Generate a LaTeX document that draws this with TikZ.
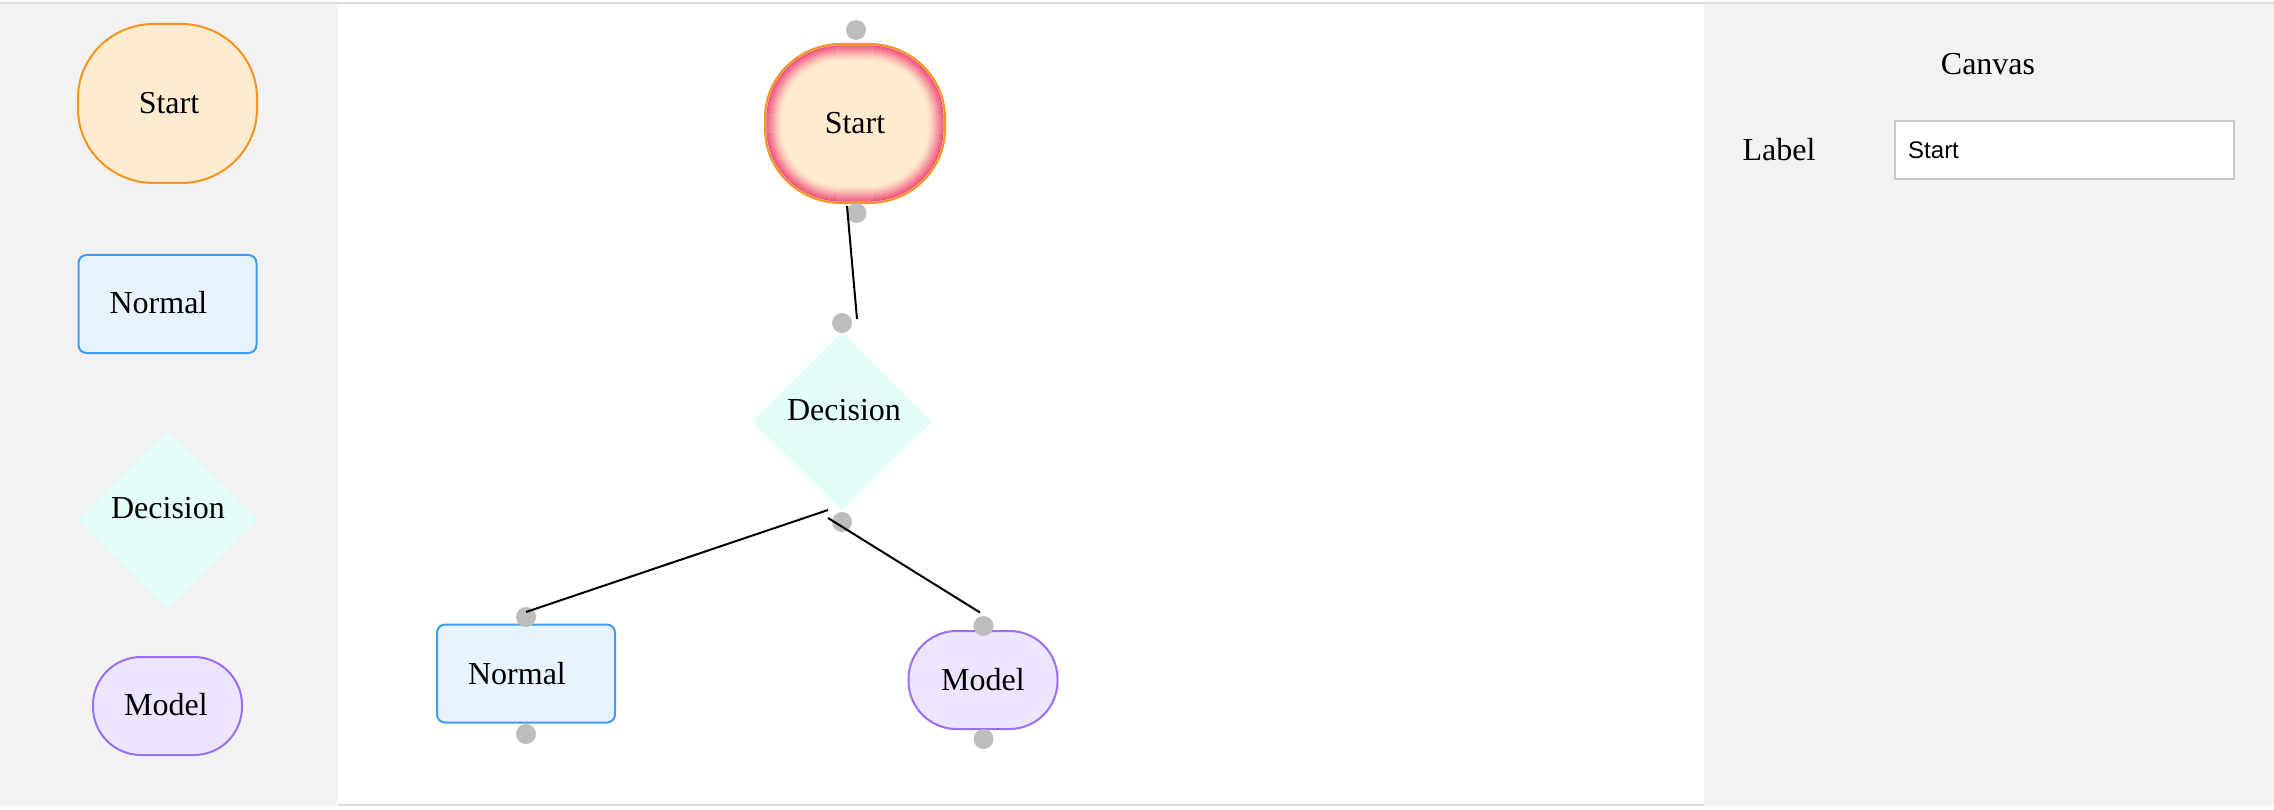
\documentclass[tikz,border=0pt]{standalone}
\usepackage{fontspec}
\setmainfont{Liberation Serif}
\newfontfamily\uisans{Liberation Sans}
\usetikzlibrary{shapes.geometric}
\definecolor{panelgray}{HTML}{F2F2F2}
\definecolor{rulegray}{HTML}{DCDCDC}
\definecolor{startfill}{HTML}{FFEBCF}
\definecolor{startborder}{HTML}{F7941E}
\definecolor{glowpink}{HTML}{EF4F7B}
\definecolor{normalfill}{HTML}{E6F2FE}
\definecolor{normalborder}{HTML}{3F9CF5}
\definecolor{decfill}{HTML}{E3FDF8}
\definecolor{modelfill}{HTML}{EDE4FD}
\definecolor{modelborder}{HTML}{9B6FF2}
\definecolor{dotgray}{HTML}{BDBDBD}
\definecolor{inputborder}{HTML}{C9C9C9}
% soft rounded box: x1 y1 x2 y2 (y downward), corner radii rx ry
\newcommand{\softrect}[6]{(#1+#5,#2) -- (#3-#5,#2)
  arc[start angle=90,end angle=0,x radius=#5pt,y radius=#6pt] -- (#3,#4-#6)
  arc[start angle=0,end angle=-90,x radius=#5pt,y radius=#6pt] -- (#1+#5,#4)
  arc[start angle=-90,end angle=-180,x radius=#5pt,y radius=#6pt] -- (#1,#2+#6)
  arc[start angle=180,end angle=90,x radius=#5pt,y radius=#6pt] -- cycle}
\tikzset{
  startarea/.style={ellipse, minimum width=180pt, minimum height=159pt, inner sep=0pt},
  startfillstyle/.style={fill=startfill, draw=startborder, line width=2pt},
  normalshape/.style={rectangle, rounded corners=8pt, minimum width=178pt, minimum height=98pt, fill=normalfill, draw=normalborder, line width=2pt, inner sep=0pt},
  decshape/.style={diamond, minimum width=180pt, minimum height=178pt, fill=decfill, inner sep=0pt},
  modelshape/.style={rectangle, rounded corners=48pt, minimum width=149pt, minimum height=98pt, fill=modelfill, draw=modelborder, line width=2pt, inner sep=0pt},
  lbl/.style={inner sep=0pt, font=\fontsize{32pt}{38pt}\selectfont},
  uitext/.style={inner sep=0pt, font=\uisans\fontsize{24pt}{28pt}\selectfont},
  handle/.style={circle, fill=dotgray, minimum size=20pt, inner sep=0pt},
  conn/.style={line width=2pt, black},
  inputbox/.style={rectangle, fill=white, draw=inputborder, line width=1.5pt, minimum width=339pt, minimum height=58pt, inner sep=0pt}
}
\begin{document}
\begin{tikzpicture}[x=1pt, y=-1pt]
\useasboundingbox (0,0) rectangle (2274,810);
% background and panels
\fill[white] (0,0) rectangle (2274,810);
\fill[rulegray] (0,2) rectangle (2274,4);
\fill[panelgray] (0,4) rectangle (338,806);
\fill[panelgray] (1704,4) rectangle (2274,806);
\fill[rulegray] (338,803.5) rectangle (1704,806);

% palette
\draw[startfillstyle] \softrect{78}{24}{257}{183}{76}{74};
\node[startarea] (pstart) at (167.5,103.5) {};
\node[lbl] (pstartt) at (169,103) {Start};
\node[normalshape] (pnormal) at (167.5,304) {};
\node[lbl] (pnormalt) at (158.5,303) {Normal};
\node[decshape] (pdec) at (168,520) {};
\node[lbl] (pdect) at (168,508) {Decision};
\node[modelshape] (pmodel) at (167.5,706) {};
\node[lbl] (pmodelt) at (166,705) {Model};

% canvas nodes
\draw[startfillstyle] \softrect{765}{44}{945}{203}{76}{74};
\foreach \d in {2,3,...,17}{
  \pgfmathsetmacro{\op}{0.95*(1-(\d-2)/16)^1.6}
  \pgfmathsetmacro{\rx}{76-\d}
  \pgfmathsetmacro{\ry}{74-\d}
  \pgfmathsetmacro{\xa}{765+\d}
  \pgfmathsetmacro{\ya}{44+\d}
  \pgfmathsetmacro{\xb}{945-\d}
  \pgfmathsetmacro{\yb}{203-\d}
  \draw[glowpink, opacity=\op, line width=1.2pt] \softrect{\xa}{\ya}{\xb}{\yb}{\rx}{\ry};
}
\node[startarea] (cstart) at (855,123.5) {};
\node[lbl] (cstartt) at (855,123) {Start};
\node[handle] (cstarttop) at (856,30) {};
\node[handle] (cstartbot) at (856.5,213) {};

\node[decshape] (cdec) at (842,421.5) {};
\node[lbl] (cdect) at (844,410) {Decision};
\node[handle] (cdectop) at (842,323) {};
\node[handle] (cdecbot) at (842,522) {};

\node[normalshape] (cnormal) at (526,673.5) {};
\node[lbl] (cnormalt) at (517,674) {Normal};
\node[handle] (cnormaltop) at (526,617) {};
\node[handle] (cnormalbot) at (526,734) {};

\node[modelshape] (cmodel) at (983,680) {};
\node[lbl] (cmodelt) at (983,680) {Model};
\node[handle] (cmodeltop) at (983.5,626) {};
\node[handle] (cmodelbot) at (983.5,739) {};

% connectors
\coordinate (e1a) at (847,206);
\coordinate (e1b) at (857,319);
\coordinate (e2a) at (828,510);
\coordinate (e2b) at (526,612);
\coordinate (e3a) at (828,518);
\coordinate (e3b) at (980,612.5);
\draw[conn] (e1a) -- (e1b);
\draw[conn] (e2a) -- (e2b);
\draw[conn] (e3a) -- (e3b);

% right panel
\node[lbl] (canvastitle) at (1988,64) {Canvas};
\node[lbl] (labeltext) at (1779,150) {Label};
\node[inputbox] (inputfield) at (2064.5,150) {};
\node[uitext, anchor=west] (inputvalue) at (1908,150) {Start};
\end{tikzpicture}
\end{document}
